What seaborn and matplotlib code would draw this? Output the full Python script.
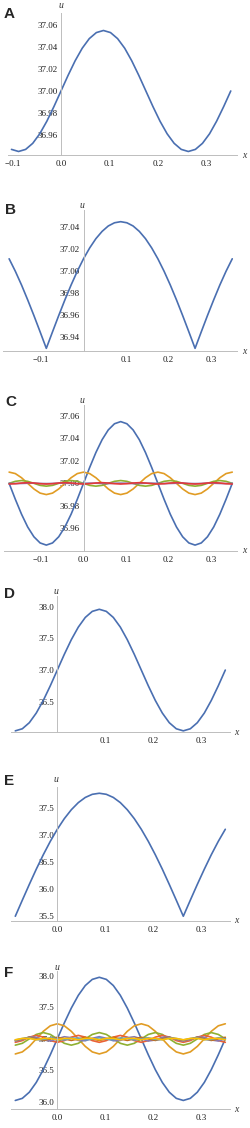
"""Six stacked u(x) profile panels (A-F) with their harmonic components."""

import matplotlib

matplotlib.use("Agg")
import matplotlib.pyplot as plt
import pandas as pd
import seaborn as sns
from matplotlib.ticker import MultipleLocator

sns.set_style("white")
plt.rcParams["font.family"] = ["Liberation Serif", "DejaVu Serif"]

FIG_W, FIG_H = 250, 1128
AXIS_GRAY = "#bdbdbd"

# x samples, one period = 0.35
X_FULL = [-0.1750, -0.1604, -0.1458, -0.1313, -0.1167, -0.1021, -0.0875, -0.0729,
          -0.0583, -0.0438, -0.0292, -0.0146, 0.0, 0.0146, 0.0292, 0.0438, 0.0583,
          0.0729, 0.0875, 0.1021, 0.1167, 0.1313, 0.1458, 0.1604, 0.1750, 0.1896,
          0.2042, 0.2188, 0.2333, 0.2479, 0.2625, 0.2771, 0.2917, 0.3063, 0.3208,
          0.3354, 0.3500]
X_A = X_FULL[5:]
X_D = X_FULL[6:]

A_U = [36.9469, 36.945, 36.9469, 36.9524, 36.9611, 36.9725, 36.9858, 37.0, 37.0142,
       37.0275, 37.0389, 37.0476, 37.0531, 37.055, 37.0531, 37.0476, 37.0389, 37.0275,
       37.0142, 37.0, 36.9858, 36.9725, 36.9611, 36.9524, 36.9469, 36.945, 36.9469,
       36.9524, 36.9611, 36.9725, 36.9858, 37.0]

B_U = [37.0113, 37.0, 36.9875, 36.974, 36.9598, 36.945, 36.93, 36.945, 36.9598, 36.974,
       36.9875, 37.0, 37.0113, 37.0212, 37.0296, 37.0362, 37.0411, 37.044, 37.045,
       37.044, 37.0411, 37.0362, 37.0296, 37.0212, 37.0113, 37.0, 36.9875, 36.974,
       36.9598, 36.945, 36.93, 36.945, 36.9598, 36.974, 36.9875, 37.0, 37.0113]

C_BLUE = [37.0, 36.9858, 36.9725, 36.9611, 36.9524, 36.9469, 36.945, 36.9469, 36.9524,
          36.9611, 36.9725, 36.9858, 37.0, 37.0142, 37.0275, 37.0389, 37.0476, 37.0531,
          37.055, 37.0531, 37.0476, 37.0389, 37.0275, 37.0142, 37.0, 36.9858, 36.9725,
          36.9611, 36.9524, 36.9469, 36.945, 36.9469, 36.9524, 36.9611, 36.9725, 36.9858,
          37.0]
C_ORANGE = [37.01, 37.0087, 37.005, 37.0, 36.995, 36.9913, 36.99, 36.9913, 36.995, 37.0,
            37.005, 37.0087, 37.01, 37.0087, 37.005, 37.0, 36.995, 36.9913, 36.99,
            36.9913, 36.995, 37.0, 37.005, 37.0087, 37.01, 37.0087, 37.005, 37.0, 36.995,
            36.9913, 36.99, 36.9913, 36.995, 37.0, 37.005, 37.0087, 37.01]
C_GREEN = [37.0, 37.0018, 37.0025, 37.0018, 37.0, 36.9982, 36.9975, 36.9982, 37.0,
           37.0018, 37.0025, 37.0018, 37.0, 36.9982, 36.9975, 36.9982, 37.0, 37.0018,
           37.0025, 37.0018, 37.0, 36.9982, 36.9975, 36.9982, 37.0, 37.0018, 37.0025,
           37.0018, 37.0, 36.9982, 36.9975, 36.9982, 37.0, 37.0018, 37.0025, 37.0018, 37.0]
C_PURPLE = [37.0, 36.9998, 36.9999, 37.0001, 37.0002, 36.9999, 36.9998, 36.9999, 37.0002,
            37.0001, 36.9999, 36.9998, 37.0, 37.0002, 37.0001, 36.9999, 36.9998, 37.0001,
            37.0002, 37.0001, 36.9998, 36.9999, 37.0001, 37.0002, 37.0, 36.9998, 36.9999,
            37.0001, 37.0002, 36.9999, 36.9998, 36.9999, 37.0002, 37.0001, 36.9999,
            36.9998, 37.0]
C_RED = [36.9994, 36.9997, 37.0003, 37.0006, 37.0003, 36.9997, 36.9994, 36.9997, 37.0003,
         37.0006, 37.0003, 36.9997, 36.9994, 36.9997, 37.0003, 37.0006, 37.0003, 36.9997,
         36.9994, 36.9997, 37.0003, 37.0006, 37.0003, 36.9997, 36.9994, 36.9997, 37.0003,
         37.0006, 37.0003, 36.9997, 36.9994, 36.9997, 37.0003, 37.0006, 37.0003, 36.9997,
         36.9994]

D_U = [36.04, 36.0727, 36.1686, 36.3212, 36.52, 36.7516, 37.0, 37.2484, 37.48, 37.6788,
       37.8314, 37.9273, 37.96, 37.9273, 37.8314, 37.6788, 37.48, 37.2484, 37.0, 36.7516,
       36.52, 36.3212, 36.1686, 36.0727, 36.04, 36.0727, 36.1686, 36.3212, 36.52,
       36.7516, 37.0]

E_U = [35.49, 35.7888, 36.0827, 36.3664, 36.635, 36.8842, 37.1093, 37.3069, 37.4731,
       37.6057, 37.7019, 37.7603, 37.78, 37.7603, 37.7019, 37.6057, 37.4731, 37.3069,
       37.1093, 36.8842, 36.635, 36.3664, 36.0827, 35.7888, 35.49, 35.7888, 36.0827,
       36.3664, 36.635, 36.8842, 37.1093]

F_BLUE = [36.02, 36.0534, 36.1513, 36.307, 36.51, 36.7464, 37.0, 37.2536, 37.49, 37.693,
          37.8487, 37.9466, 37.98, 37.9466, 37.8487, 37.693, 37.49, 37.2536, 37.0,
          36.7464, 36.51, 36.307, 36.1513, 36.0534, 36.02, 36.0534, 36.1513, 36.307,
          36.51, 36.7464, 37.0]
F_ORANGE = [36.76, 36.7922, 36.88, 37.0, 37.12, 37.2078, 37.24, 37.2078, 37.12, 37.0,
            36.88, 36.7922, 36.76, 36.7922, 36.88, 37.0, 37.12, 37.2078, 37.24, 37.2078,
            37.12, 37.0, 36.88, 36.7922, 36.76, 36.7922, 36.88, 37.0, 37.12, 37.2078,
            37.24]
F_GREEN = [36.9, 36.9293, 37.0, 37.0707, 37.1, 37.0707, 37.0, 36.9293, 36.9, 36.9293,
           37.0, 37.0707, 37.1, 37.0707, 37.0, 36.9293, 36.9, 36.9293, 37.0, 37.0707,
           37.1, 37.0707, 37.0, 36.9293, 36.9, 36.9293, 37.0, 37.0707, 37.1, 37.0707, 37.0]
F_RED = [36.945, 36.9725, 37.0275, 37.055, 37.0275, 36.9725, 36.945, 36.9725, 37.0275,
         37.055, 37.0275, 36.9725, 36.945, 36.9725, 37.0275, 37.055, 37.0275, 36.9725,
         36.945, 36.9725, 37.0275, 37.055, 37.0275, 36.9725, 36.945, 36.9725, 37.0275,
         37.055, 37.0275, 36.9725, 36.945]
F_PURPLE = [36.965, 36.9909, 37.0303, 37.0247, 36.9825, 36.9662, 37.0, 37.0338, 37.0175,
            36.9753, 36.9697, 37.0091, 37.035, 37.0091, 36.9697, 36.9753, 37.0175,
            37.0338, 37.0, 36.9662, 36.9825, 37.0247, 37.0303, 36.9909, 36.965, 36.9909,
            37.0303, 37.0247, 36.9825, 36.9662, 37.0]
F_BROWN = [36.975, 37.0, 37.025, 37.0, 36.975, 37.0, 37.025, 37.0, 36.975, 37.0, 37.025,
           37.0, 36.975, 37.0, 37.025, 37.0, 36.975, 37.0, 37.025, 37.0, 36.975, 37.0,
           37.025, 37.0, 36.975, 37.0, 37.025, 37.0, 36.975, 37.0, 37.025]
F_LIGHTBLUE = [36.982, 37.0047, 37.0156, 36.9873, 36.991, 37.0174, 37.0, 36.9826, 37.009,
               37.0127, 36.9844, 36.9953, 37.018, 36.9953, 36.9844, 37.0127, 37.009,
               36.9826, 37.0, 37.0174, 36.991, 36.9873, 37.0156, 37.0047, 36.982, 37.0047,
               37.0156, 36.9873, 36.991, 37.0174, 37.0]
F_YELLOW = [36.986, 37.007, 37.007, 36.986, 37.007, 37.007, 36.986, 37.007, 37.007,
            36.986, 37.007, 37.007, 36.986, 37.007, 37.007, 36.986, 37.007, 37.007,
            36.986, 37.007, 37.007, 36.986, 37.007, 37.007, 36.986, 37.007, 37.007,
            36.986, 37.007, 37.007, 36.986]

PALETTE = {
    "blue": "#4a6fb1",
    "orange": "#e19c24",
    "green": "#8fb032",
    "red": "#eb6235",
    "red_c": "#e2393a",
    "purple": "#8778b3",
    "brown": "#c56e1a",
    "lightblue": "#5d9ec7",
    "yellow": "#ffbf00",
}

PANELS = [
    dict(letter="A", x=X_A, curves=[("blue", A_U)],
         box=(8, 237, 13, 155), x0=61, scale=485, ylim=(36.9418, 37.0709),
         yticks=[36.96, 36.98, 37.00, 37.02, 37.04, 37.06], ydec=2, yminor=0.005,
         xticks=[-0.1, 0.0, 0.1, 0.2, 0.3],
         letter_at=(4, 7), u_at=(61, 6), x_at=(244, 155)),
    dict(letter="B", x=X_FULL, curves=[("blue", B_U)],
         box=(3, 237, 210, 351), x0=83.5, scale=425, ylim=(36.9276, 37.0556),
         yticks=[36.94, 36.96, 36.98, 37.00, 37.02, 37.04], ydec=2, yminor=0.005,
         xticks=[-0.1, 0.1, 0.2, 0.3],
         letter_at=(5, 203), u_at=(82, 205), x_at=(244, 351)),
    dict(letter="C", x=X_FULL,
         curves=[("blue", C_BLUE), ("orange", C_ORANGE), ("green", C_GREEN),
                 ("purple", C_PURPLE), ("red_c", C_RED)],
         box=(4, 237, 405, 550.7), x0=83.5, scale=425, ylim=(36.94, 37.0698),
         yticks=[36.96, 36.98, 37.00, 37.02, 37.04, 37.06], ydec=2, yminor=0.005,
         xticks=[-0.1, 0.0, 0.1, 0.2, 0.3],
         letter_at=(5, 395), u_at=(82, 400), x_at=(244, 550.7)),
    dict(letter="D", x=X_D, curves=[("blue", D_U)],
         box=(11, 230, 596, 732.3), x0=57.3, scale=480, ylim=(36.017, 38.17),
         yticks=[36.5, 37.0, 37.5, 38.0], ydec=1, yminor=0.1,
         xticks=[0.1, 0.2, 0.3],
         letter_at=(4, 587), u_at=(56, 592), x_at=(236, 732.3)),
    dict(letter="E", x=X_D, curves=[("blue", E_U)],
         box=(11, 230, 786.7, 920.7), x0=57.3, scale=480, ylim=(35.407, 37.902),
         yticks=[35.5, 36.0, 36.5, 37.0, 37.5], ydec=1, yminor=0.1,
         xticks=[0.0, 0.1, 0.2, 0.3],
         letter_at=(4, 774), u_at=(56, 779), x_at=(236, 920.7)),
    dict(letter="F", x=X_D,
         curves=[("blue", F_BLUE), ("orange", F_ORANGE), ("green", F_GREEN),
                 ("red", F_RED), ("purple", F_PURPLE), ("brown", F_BROWN),
                 ("lightblue", F_LIGHTBLUE), ("yellow", F_YELLOW)],
         box=(11, 230, 971, 1109), x0=57.3, scale=480, ylim=(35.884, 38.08),
         yticks=[36.0, 36.5, 37.0, 37.5, 38.0], ydec=1, yminor=0.1,
         xticks=[0.0, 0.1, 0.2, 0.3],
         letter_at=(4, 966), u_at=(57, 967), x_at=(236, 1109)),
]


def fx(px: float) -> float:
    return px / FIG_W


def fy(py: float) -> float:
    return 1 - py / FIG_H


def fmt(value: float, decimals: int) -> str:
    return f"{value:.{decimals}f}".replace("-", "\u2212")


def series_frame(x: list, curves: list) -> pd.DataFrame:
    frames = [pd.DataFrame({"x": x, "u": values, "series": name}) for name, values in curves]
    return pd.concat(frames, ignore_index=True)


def draw_panel(fig, p: dict) -> None:
    left, right, top, bottom = p["box"]
    ax = fig.add_axes([fx(left), fy(bottom), (right - left) / FIG_W, (bottom - top) / FIG_H])
    ax.patch.set_alpha(0)

    data = series_frame(p["x"], p["curves"])
    names = [name for name, _ in p["curves"]]
    sns.lineplot(data=data, x="x", y="u", hue="series", hue_order=names, palette=PALETTE,
                 estimator=None, sort=False, linewidth=1.2, legend=False, ax=ax)

    ax.set_xlim((left - p["x0"]) / p["scale"], (right - p["x0"]) / p["scale"])
    ax.set_ylim(*p["ylim"])
    ax.set_xlabel("")
    ax.set_ylabel("")

    for side in ("top", "right"):
        ax.spines[side].set_visible(False)
    ax.spines["left"].set_position(("data", 0.0))
    for side in ("left", "bottom"):
        ax.spines[side].set_color(AXIS_GRAY)
        ax.spines[side].set_linewidth(0.7)

    ax.set_xticks(p["xticks"])
    ax.set_xticklabels([fmt(t, 1) for t in p["xticks"]])
    ax.set_yticks(p["yticks"])
    ax.set_yticklabels([fmt(t, p["ydec"]) for t in p["yticks"]])
    ax.xaxis.set_minor_locator(MultipleLocator(0.02))
    ax.yaxis.set_minor_locator(MultipleLocator(p["yminor"]))
    ax.tick_params(which="major", direction="in", length=2.5, width=0.6, color=AXIS_GRAY,
                   labelsize=6.5, labelcolor="#1e1e1e")
    ax.tick_params(axis="x", which="major", pad=3.5)
    ax.tick_params(axis="y", which="major", pad=2.5)
    ax.tick_params(which="minor", direction="in", length=1.3, width=0.5, color=AXIS_GRAY)
    ax.set_axisbelow(True)

    lx, ly = p["letter_at"]
    fig.text(fx(lx), fy(ly), p["letter"], family=["Liberation Sans", "DejaVu Sans"],
             weight="bold", size=11, ha="left", va="top")
    ux, uy = p["u_at"]
    fig.text(fx(ux), fy(uy), "u", style="italic", size=7, ha="center", va="center",
             color="#333333")
    xx, xy = p["x_at"]
    fig.text(fx(xx), fy(xy), "x", style="italic", size=7, ha="center", va="center",
             color="#333333")


def main() -> None:
    fig = plt.figure(figsize=(FIG_W / 100, FIG_H / 100), dpi=100)
    for panel in PANELS:
        draw_panel(fig, panel)
    fig.savefig("out.png", dpi=100)
    plt.close(fig)


if __name__ == "__main__":
    main()
